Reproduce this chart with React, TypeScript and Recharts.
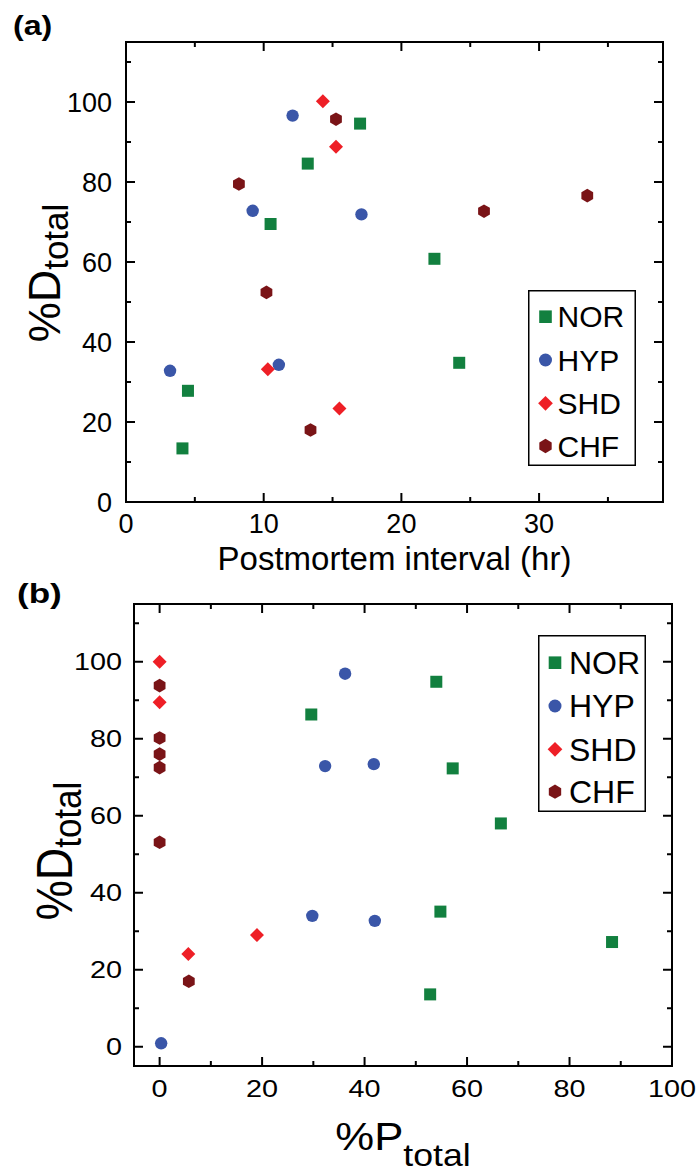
import React from 'react';
import { ScatterChart, Scatter, XAxis, YAxis, Legend } from 'recharts';

const FONT = '"Liberation Sans", Arial, Helvetica, sans-serif';

// (a) postmortem interval (hr) vs %D total
const norA = [
  { x: 4.5, y: 27.8 }, { x: 4.1, y: 13.4 }, { x: 10.5, y: 69.5 }, { x: 13.2, y: 84.6 },
  { x: 17.0, y: 94.6 }, { x: 22.4, y: 60.8 }, { x: 24.2, y: 34.8 },
];
const hypA = [
  { x: 3.2, y: 32.8 }, { x: 11.1, y: 34.3 }, { x: 9.2, y: 72.8 }, { x: 12.1, y: 96.6 }, { x: 17.1, y: 71.9 },
];
const shdA = [
  { x: 10.3, y: 33.2 }, { x: 15.5, y: 23.4 }, { x: 14.3, y: 100.2 }, { x: 15.25, y: 88.8 },
];
const chfA = [
  { x: 13.4, y: 18.0 }, { x: 10.2, y: 52.4 }, { x: 15.25, y: 95.7 }, { x: 8.2, y: 79.5 },
  { x: 26.0, y: 72.7 }, { x: 33.5, y: 76.6 },
];

// (b) %P total vs %D total
const norB = [
  { x: 29.6, y: 86.3 }, { x: 54.0, y: 94.8 }, { x: 57.2, y: 72.3 }, { x: 66.6, y: 58.0 },
  { x: 54.8, y: 35.1 }, { x: 52.8, y: 13.6 }, { x: 88.3, y: 27.2 },
];
const hypB = [
  { x: 36.2, y: 96.9 }, { x: 32.3, y: 72.9 }, { x: 41.8, y: 73.4 }, { x: 29.8, y: 34.0 },
  { x: 42.0, y: 32.7 }, { x: 0.3, y: 0.9 },
];
const shdB = [
  { x: 0, y: 100 }, { x: 0, y: 89.5 }, { x: 5.6, y: 24.1 }, { x: 19.0, y: 29.0 },
];
const chfB = [
  { x: 0, y: 93.8 }, { x: 0, y: 80.2 }, { x: 0, y: 76.0 }, { x: 0, y: 72.5 }, { x: 0, y: 53.1 }, { x: 5.7, y: 17.0 },
];

const xTicksA = [0, 5, 10, 15, 20, 25, 30, 35];
const xLabelsA = [0, 10, 20, 30];
const xTicksB = [0, 10, 20, 30, 40, 50, 60, 70, 80, 90, 100];
const xLabelsB = [0, 20, 40, 60, 80, 100];
const yTicks = [0, 10, 20, 30, 40, 50, 60, 70, 80, 90, 100, 110];
const yLabels = [0, 20, 40, 60, 80, 100];

const groups = ['NOR', 'HYP', 'SHD', 'CHF'];
const colors: Record<string, string> = { NOR: '#12803f', HYP: '#3a56a8', SHD: '#ee1f26', CHF: '#7a1417' };
const shapes: Record<string, string> = { NOR: 'square', HYP: 'circle', SHD: 'diamond', CHF: 'hexagon' };

function Marker({ kind, cx, cy, color, s = 1 }: any) {
  if (cx == null || cy == null) return null;
  if (kind === 'square') {
    const h = 6 * s;
    return <rect x={cx - h} y={cy - h} width={2 * h} height={2 * h} fill={color} />;
  }
  if (kind === 'circle') return <circle cx={cx} cy={cy} r={6.2 * s} fill={color} />;
  if (kind === 'diamond') {
    const d = 7 * s;
    return <polygon points={`${cx},${cy - d} ${cx + d},${cy} ${cx},${cy + d} ${cx - d},${cy}`} fill={color} />;
  }
  const r = 6.8 * s;
  const pts = [0, 1, 2, 3, 4, 5]
    .map((i) => {
      const a = (Math.PI / 3) * i - Math.PI / 2;
      return `${cx + r * Math.cos(a)},${cy + r * Math.sin(a)}`;
    })
    .join(' ');
  return <polygon points={pts} fill={color} />;
}

// inward tick marks (long on labelled values) plus the label itself
const makeTick = (side: string, majors: number[], showLabel: boolean, fs: number, sx: number, gap: number) => (props: any) => {
  const x = Number(props.x);
  const y = Number(props.y);
  const v = props.payload.value;
  const major = majors.includes(v);
  const len = major ? 9 : 5;
  let d = '';
  if (side === 'bottom') d = `M${x},${y}V${y - len}`;
  if (side === 'top') d = `M${x},${y}V${y + len}`;
  if (side === 'left') d = `M${x},${y}H${x + len}`;
  if (side === 'right') d = `M${x},${y}H${x - len}`;
  let label = null;
  if (showLabel && major) {
    if (side === 'bottom') {
      label = (
        <text transform={`translate(${x},${y + gap}) scale(${sx},1)`} textAnchor="middle" fontSize={fs} fontFamily={FONT} fill="#000">
          {v}
        </text>
      );
    } else {
      label = (
        <text transform={`translate(${x - gap},${y + fs * 0.358}) scale(${sx},1)`} textAnchor="end" fontSize={fs} fontFamily={FONT} fill="#000">
          {v}
        </text>
      );
    }
  }
  return (
    <g>
      <path d={d} stroke="#000" strokeWidth={2} fill="none" />
      {label}
    </g>
  );
};

const yTitle = (baseOff: number, dy: number, fs: number, sub: number, sx: number, shift: number) => (props: any) => {
  const { x, y, width, height } = props.viewBox;
  const cx = x + width - baseOff;
  const cy = y + height / 2 + shift;
  return (
    <g transform={`translate(${cx},${cy}) scale(${sx},1) rotate(-90)`}>
      <text textAnchor="middle" fontFamily={FONT} fontSize={fs} fill="#000">
        %D<tspan fontSize={sub} dy={dy}>total</tspan>
      </text>
    </g>
  );
};

const legendContent = (w: number, h: number, rows: number[], mx: number, tx: number, fs: number) => (props: any) => {
  const items = [...(props.payload || [])].sort((a: any, b: any) => groups.indexOf(a.value) - groups.indexOf(b.value));
  return (
    <svg width={w} height={h} style={{ display: 'block' }}>
      <rect x={0.75} y={0.75} width={w - 1.5} height={h - 1.5} fill="#fff" stroke="#000" strokeWidth={1.5} />
      {items.map((it: any, i: number) => (
        <g key={it.value}>
          <Marker kind={shapes[it.value]} cx={mx} cy={rows[i]} color={colors[it.value]} s={1.05} />
          <text x={tx} y={rows[i] + fs * 0.358} fontSize={fs} fontFamily={FONT} fill="#000">
            {it.value}
          </text>
        </g>
      ))}
    </svg>
  );
};

const axisLine = { stroke: '#000', strokeWidth: 2, strokeLinecap: 'square' as const };

function renderSeries(sets: any[][]) {
  return groups.map((g, i) => (
    <Scatter
      key={g}
      name={g}
      data={sets[i]}
      fill={colors[g]}
      isAnimationActive={false}
      shape={(p: any) => <Marker kind={shapes[g]} cx={p.cx} cy={p.cy} color={colors[g]} />}
    />
  ));
}

export default function App() {
  return (
    <div style={{ position: 'absolute', left: 0, top: 0, width: 699, height: 1172, background: '#fff' }}>
      {/* panel (a) */}
      <div style={{ position: 'absolute', left: 0, top: 0 }}>
        <ScatterChart width={699} height={580} margin={{ top: 32, right: 26, bottom: 48, left: 66 }}>
          <XAxis
            type="number" dataKey="x" domain={[0, 39]} ticks={xTicksA} interval={0} allowDataOverflow
            height={30} tickSize={0} tickMargin={0} tickLine={false} axisLine={axisLine}
            tick={makeTick('bottom', xLabelsA, true, 27, 1, 31)}
            label={(p: any) => {
              const { x, y, width } = p.viewBox;
              return (
                <text x={x + width / 2} y={y + 68} textAnchor="middle" fontFamily={FONT} fontSize={33} fill="#000">
                  Postmortem interval (hr)
                </text>
              );
            }}
          />
          <XAxis
            xAxisId="top" orientation="top" type="number" dataKey="x" domain={[0, 39]} ticks={xTicksA} interval={0}
            allowDataOverflow height={10} tickSize={0} tickMargin={0} tickLine={false} axisLine={axisLine}
            tick={makeTick('top', xLabelsA, false, 27, 1, 0)}
          />
          <YAxis
            type="number" dataKey="y" domain={[0, 115]} ticks={yTicks} interval={0} allowDataOverflow
            width={60} tickSize={0} tickMargin={0} tickLine={false} axisLine={axisLine}
            tick={makeTick('left', yLabels, true, 27, 1, 14)}
            label={yTitle(66, 8, 45, 35, 1, 1)}
          />
          <YAxis
            yAxisId="right" orientation="right" type="number" dataKey="y" domain={[0, 115]} ticks={yTicks} interval={0}
            allowDataOverflow width={10} tickSize={0} tickMargin={0} tickLine={false} axisLine={axisLine}
            tick={makeTick('right', yLabels, false, 27, 1, 0)}
          />
          {renderSeries([norA, hypA, shdA, chfA])}
          <Legend
            layout="vertical" align="center" verticalAlign="middle" width={108} height={176}
            wrapperStyle={{ position: 'absolute', left: 528, top: 290, width: 108, height: 176 }}
            content={legendContent(108, 176, [26.7, 70, 113.3, 156], 17.5, 29.5, 30)}
          />
        </ScatterChart>
        <svg width={80} height={50} style={{ position: 'absolute', left: 0, top: 0 }}>
          <text transform="translate(13,35) scale(1.15,1)" fontFamily={FONT} fontWeight="bold" fontSize={28} fill="#000">
            (a)
          </text>
        </svg>
      </div>

      {/* panel (b) */}
      <div style={{ position: 'absolute', left: 0, top: 580 }}>
        <ScatterChart width={699} height={592} margin={{ top: 14, right: 17, bottom: 76, left: 74 }}>
          <XAxis
            type="number" dataKey="x" domain={[-5, 100]} ticks={xTicksB} interval={0} allowDataOverflow
            height={30} tickSize={0} tickMargin={0} tickLine={false} axisLine={axisLine}
            tick={makeTick('bottom', xLabelsB, true, 24, 1.2, 31)}
            label={(p: any) => {
              const { x, y, width } = p.viewBox;
              return (
                <g transform={`translate(${x + width / 2},${y + 84}) scale(1.15,1)`}>
                  <text textAnchor="middle" fontFamily={FONT} fontSize={38} fill="#000">
                    %P<tspan fontSize={31} dy={16}>total</tspan>
                  </text>
                </g>
              );
            }}
          />
          <XAxis
            xAxisId="top" orientation="top" type="number" dataKey="x" domain={[-5, 100]} ticks={xTicksB} interval={0}
            allowDataOverflow height={10} tickSize={0} tickMargin={0} tickLine={false} axisLine={axisLine}
            tick={makeTick('top', xLabelsB, false, 24, 1, 0)}
          />
          <YAxis
            type="number" dataKey="y" domain={[-5, 115]} ticks={yTicks} interval={0} allowDataOverflow
            width={60} tickSize={0} tickMargin={0} tickLine={false} axisLine={axisLine}
            tick={makeTick('left', yLabels, true, 24, 1.2, 12)}
            label={yTitle(62, 8, 45, 35, 1.1, 16)}
          />
          <YAxis
            yAxisId="right" orientation="right" type="number" dataKey="y" domain={[-5, 115]} ticks={yTicks} interval={0}
            allowDataOverflow width={10} tickSize={0} tickMargin={0} tickLine={false} axisLine={axisLine}
            tick={makeTick('right', yLabels, false, 24, 1, 0)}
          />
          {renderSeries([norB, hypB, shdB, chfB])}
          <Legend
            layout="vertical" align="center" verticalAlign="middle" width={108} height={177}
            wrapperStyle={{ position: 'absolute', left: 538, top: 55, width: 108, height: 177 }}
            content={legendContent(108, 177, [27.7, 71, 114.3, 156.7], 17, 31, 32)}
          />
        </ScatterChart>
        <svg width={80} height={50} style={{ position: 'absolute', left: 0, top: 0 }}>
          <text transform="translate(17,23) scale(1.3,1)" fontFamily={FONT} fontWeight="bold" fontSize={27} fill="#000">
            (b)
          </text>
        </svg>
      </div>
    </div>
  );
}
